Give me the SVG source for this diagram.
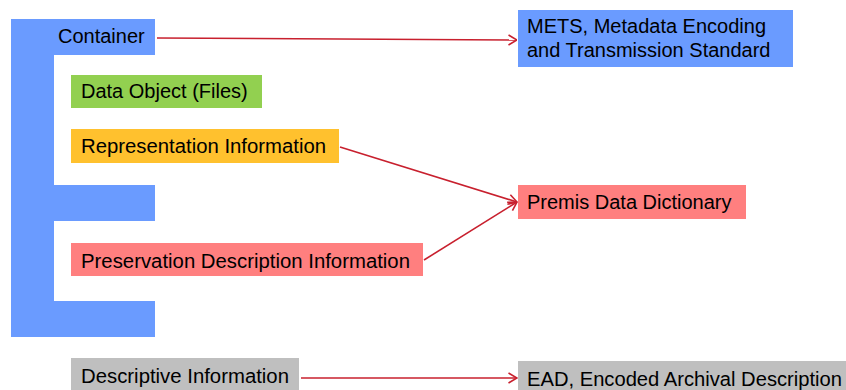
<svg xmlns="http://www.w3.org/2000/svg" width="846" height="390" viewBox="0 0 846 390">
<defs>
<style>
text{font-family:"Liberation Sans",Arial,sans-serif;font-size:20px;fill:#000}
.c{stroke:#C8202E;stroke-width:1.6;fill:none}
</style>
<marker id="ah" viewBox="0 0 10 12" refX="9.5" refY="6" markerWidth="10" markerHeight="12" markerUnits="userSpaceOnUse" orient="auto">
<polyline points="1,1 9.5,6 1,11" fill="none" stroke="#C8202E" stroke-width="1.6"/>
</marker>
</defs>
<rect width="846" height="390" fill="#fff"/>
<g id="container">
<path d="M11,19 H155 V55 H54 V185 H155 V221 H54 V301 H155 V337 H11 Z" fill="#6A9BFF"/>
<text x="58" y="43">Container</text>
</g>
<g id="data-object">
<rect x="71" y="75" width="191" height="33" fill="#92D050"/>
<text x="81" y="98">Data Object (Files)</text>
</g>
<g id="representation">
<rect x="71" y="129" width="268" height="34" fill="#FFC12E"/>
<text x="81" y="153" textLength="245" lengthAdjust="spacingAndGlyphs">Representation Information</text>
</g>
<g id="preservation">
<rect x="71" y="243" width="352" height="33" fill="#FF7F7F"/>
<text x="81" y="268" textLength="329" lengthAdjust="spacingAndGlyphs">Preservation Description Information</text>
</g>
<g id="descriptive">
<rect x="71" y="358" width="228" height="32" fill="#BFBFBF"/>
<text x="81" y="383" textLength="208" lengthAdjust="spacingAndGlyphs">Descriptive Information</text>
</g>
<g id="mets">
<rect x="518" y="10" width="275" height="57" fill="#6A9BFF"/>
<text x="527" y="33">METS, Metadata Encoding</text>
<text x="527" y="57">and Transmission Standard</text>
</g>
<g id="premis">
<rect x="518" y="185" width="228" height="34" fill="#FF7F7F"/>
<text x="527" y="209">Premis Data Dictionary</text>
</g>
<g id="ead">
<rect x="518" y="361" width="328" height="29" fill="#BFBFBF"/>
<text x="527" y="386" textLength="315" lengthAdjust="spacingAndGlyphs">EAD, Encoded Archival Description</text>
</g>
<g id="connectors">
<line class="c" x1="157" y1="38" x2="517" y2="40" marker-end="url(#ah)"/>
<line class="c" x1="340" y1="147" x2="517" y2="202" marker-end="url(#ah)"/>
<line class="c" x1="424" y1="260" x2="517" y2="202" marker-end="url(#ah)"/>
<line class="c" x1="301" y1="378" x2="517" y2="378" marker-end="url(#ah)"/>
</g>
</svg>
